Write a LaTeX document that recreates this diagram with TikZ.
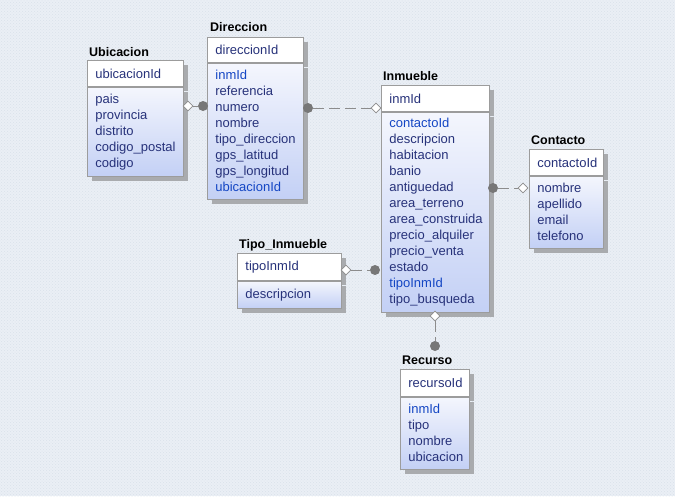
\documentclass[tikz,border=0pt]{standalone}
\usepackage{fontspec}
\setmainfont{Liberation Sans}
\usetikzlibrary{shadows,shapes.geometric,patterns}
\definecolor{bg}{HTML}{EAEFF5}
\definecolor{bgdot}{HTML}{D9E1EB}
\definecolor{txt}{HTML}{27327A}
\definecolor{fk}{HTML}{1446C4}
\definecolor{edge}{HTML}{9C9C9C}
\definecolor{shd}{HTML}{A9ABAE}
\definecolor{bodytop}{HTML}{F4F6FD}
\definecolor{bodybot}{HTML}{C3D0F5}
\definecolor{conn}{HTML}{8C8C8C}
\newcommand{\fkey}[1]{\textcolor{fk}{#1}}
\tikzset{
 ent/.style={draw=edge, line width=0.8pt, drop shadow={shadow xshift=5pt, shadow yshift=-5pt, fill=shd, opacity=1}, inner xsep=8pt, inner ysep=0pt, align=left, font=\fontsize{13}{16}\selectfont, text=txt},
 hdr/.style={ent, fill=white, anchor=north west},
 bdy/.style={ent, top color=bodytop, bottom color=bodybot, anchor=north west},
 ttl/.style={font=\bfseries\fontsize{12.5}{15}\selectfont, anchor=base west, inner sep=0pt},
 dia/.style={diamond, draw=conn, fill=white, inner sep=0pt, minimum width=10pt, minimum height=10pt, line width=0.8pt},
 dot/.style={circle, fill=conn!85!black, inner sep=0pt, minimum size=10pt},
 rel/.style={draw=conn, line width=0.8pt, dash pattern=on 11pt off 5pt}
}
\begin{document}
\begin{tikzpicture}[x=1pt,y=-1pt]
\fill[bg] (0,0) rectangle (675,496);
\fill[pattern=crosshatch dots, pattern color=bgdot] (0,0) rectangle (675,496);
\useasboundingbox (0,0) rectangle (675,496);
% Ubicacion
\node[ttl] (tU) at (89,56) {Ubicacion};
\node[hdr, text width=80pt, minimum height=26pt] (hU) at (87,60) {ubicacionId};
\node[bdy, text width=80pt, minimum height=89pt] (bU) at (hU.south west) {pais\\provincia\\distrito\\codigo\_postal\\codigo};
% Direccion
\node[ttl] (tD) at (210,31) {Direccion};
\node[hdr, text width=80pt, minimum height=25pt] (hD) at (207,37) {direccionId};
\node[bdy, text width=80pt, minimum height=136pt] (bD) at (hD.south west) {\fkey{inmId}\\referencia\\numero\\nombre\\tipo\_direccion\\gps\_latitud\\gps\_longitud\\\fkey{ubicacionId}};
% Inmueble
\node[ttl] (tI) at (383,80) {Inmueble};
\node[hdr, text width=92pt, minimum height=26pt] (hI) at (381,85) {inmId};
\node[bdy, text width=92pt, minimum height=200pt] (bI) at (hI.south west) {\fkey{contactoId}\\descripcion\\habitacion\\banio\\antiguedad\\area\_terreno\\area\_construida\\precio\_alquiler\\precio\_venta\\estado\\\fkey{tipoInmId}\\tipo\_busqueda};
% Contacto
\node[ttl] (tC) at (531,144) {Contacto};
\node[hdr, text width=58pt, minimum height=26pt] (hC) at (529,149) {contactoId};
\node[bdy, text width=58pt, minimum height=72pt] (bC) at (hC.south west) {nombre\\apellido\\email\\telefono};
% Tipo_Inmueble
\node[ttl] (tT) at (239,248) {Tipo\_Inmueble};
\node[hdr, text width=88pt, minimum height=27pt] (hT) at (237,253) {tipoInmId};
\node[bdy, text width=88pt, minimum height=27pt] (bT) at (hT.south west) {descripcion};
% Recurso
\node[ttl] (tR) at (402,364) {Recurso};
\node[hdr, text width=53pt, minimum height=27pt] (hR) at (400,369) {recursoId};
\node[bdy, text width=53pt, minimum height=72pt] (bR) at (hR.south west) {\fkey{inmId}\\tipo\\nombre\\ubicacion};
% relation ends
\node[dia] (dUD) at (188,106) {};
\node[dot] (oUD) at (203,106) {};
\node[dot] (oDI) at (308,108) {};
\node[dia] (dDI) at (376,108) {};
\node[dot] (oIC) at (493,188) {};
\node[dia] (dIC) at (523,188) {};
\node[dia] (dTI) at (346,270) {};
\node[dot] (oTI) at (375,270) {};
\node[dia] (dIR) at (435,316) {};
\node[dot] (oIR) at (435,346) {};
% connectors
\draw[rel] (dUD) -- (oUD);
\draw[rel] (oDI) -- (dDI);
\draw[rel] (oIC) -- (dIC);
\draw[rel] (dTI) -- (oTI);
\draw[rel] (dIR) -- (oIR);
\end{tikzpicture}
\end{document}
